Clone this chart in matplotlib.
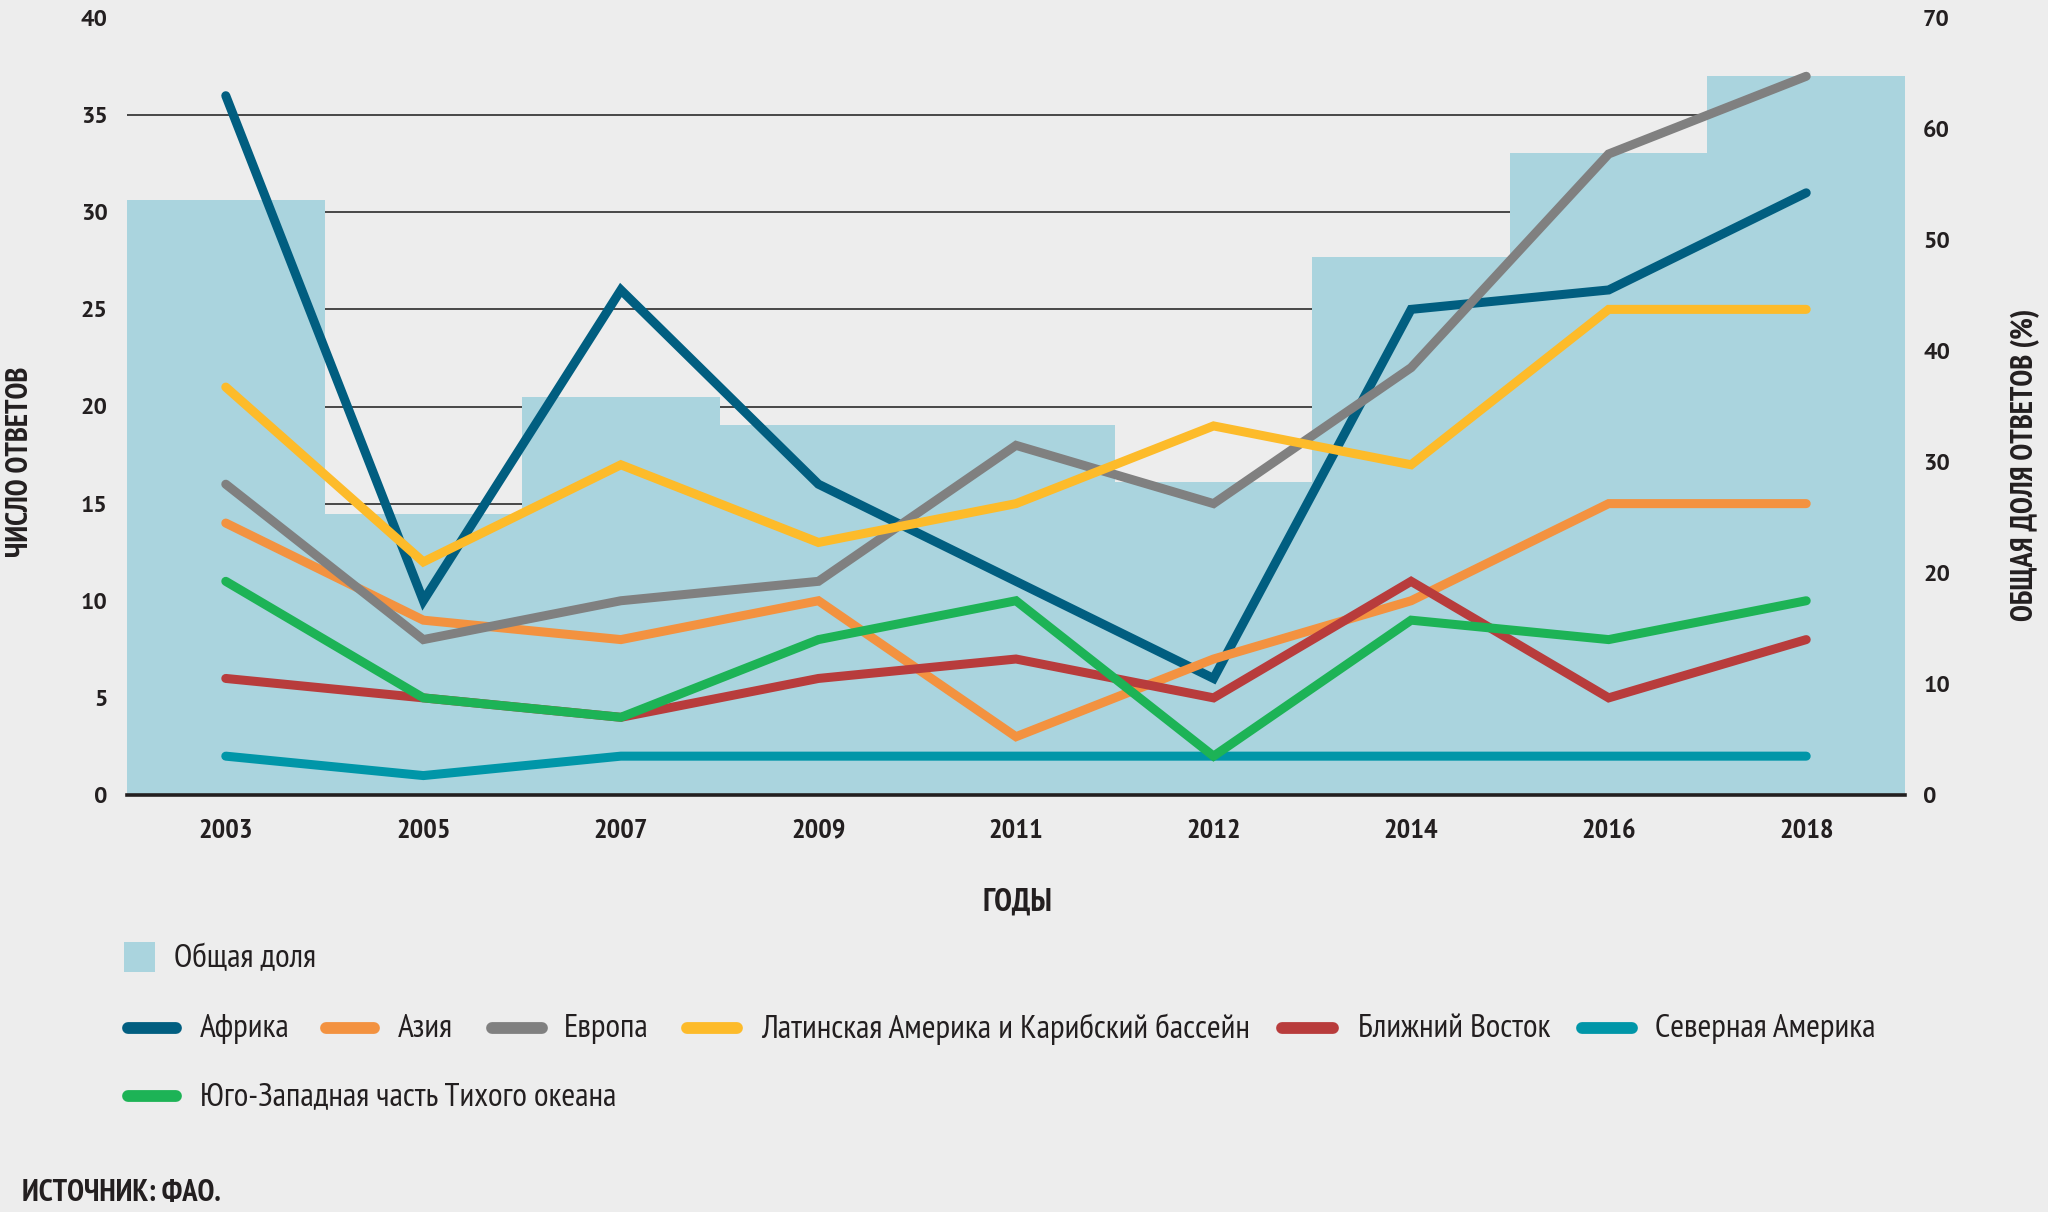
import numpy as np
import matplotlib
matplotlib.use("Agg")
import matplotlib.pyplot as plt
from matplotlib.lines import Line2D
from matplotlib.patches import Rectangle
from matplotlib.ticker import FixedLocator

# ---------------- data ----------------
years = ["2003", "2005", "2007", "2009", "2011", "2012", "2014", "2016", "2018"]
share_pct = [53.6, 25.3, 35.9, 33.3, 33.3, 28.2, 48.5, 57.8, 64.8]

africa = [36, 10, 26, 16, 11, 6, 25, 26, 31]
asia = [14, 9, 8, 10, 3, 7, 10, 15, 15]
europe = [16, 8, 10, 11, 18, 15, 22, 33, 37]
latam = [21, 12, 17, 13, 15, 19, 17, 25, 25]
near_east = [6, 5, 4, 6, 7, 5, 11, 5, 8]
north_america = [2, 1, 2, 2, 2, 2, 2, 2, 2]
sw_pacific = [11, 5, 4, 8, 10, 2, 9, 8, 10]

series_names = ["Африка", "Азия", "Европа", "Латинская Америка и Карибский бассейн",
                "Ближний Восток", "Северная Америка", "Юго-Западная часть Тихого океана"]
series_values = [africa, asia, europe, latam, near_east, north_america, sw_pacific]
series_colors = ["#015e80", "#f39240", "#808080", "#fdbb2a", "#b83c3c", "#0096a8", "#1db356"]

left_ticks = [0, 5, 10, 15, 20, 25, 30, 35, 40]
right_ticks = [0, 10, 20, 30, 40, 50, 60, 70]

bar_label = "Общая доля"
left_title = "ЧИСЛО ОТВЕТОВ"
right_title = "ОБЩАЯ ДОЛЯ ОТВЕТОВ (%)"
x_title = "ГОДЫ"
source = "ИСТОЧНИК: ФАО."

# ---------------- style ----------------
NARROW = ["PT Sans Narrow", "Fira Sans Condensed", "Roboto Condensed", "DejaVu Sans"]
WIDE = ["PT Sans", "Fira Sans", "Liberation Sans", "DejaVu Sans"]
BG = "#ededed"
TXT = "#231f20"
BAR = "#aad4de"

W, H = 2048, 1212
fig = plt.figure(figsize=(W / 100, H / 100), dpi=100, facecolor=BG)

L, R, T, B = 127, 1905, 18, 795
ax = fig.add_axes([L / W, 1 - B / H, (R - L) / W, (B - T) / H])
ax2 = ax.twinx()
ax.set_zorder(ax2.get_zorder() + 1)
ax.patch.set_visible(False)
ax2.set_facecolor(BG)

x = np.arange(len(years))

# bars (right axis)
ax2.bar(x, share_pct, width=1.0, color=BAR, zorder=2, linewidth=0)
ax2.set_ylim(0, 70)
ax2.set_yticks(right_ticks)
ax2.set_yticklabels([str(t) for t in right_ticks], family=WIDE, fontweight="bold",
                    fontsize=17, color=TXT)
ax2.tick_params(axis="y", length=0, pad=13)
# gridlines matching the left-axis ticks, drawn beneath the bars
ax2.yaxis.set_minor_locator(FixedLocator([t * 70 / 40 for t in left_ticks]))
ax2.tick_params(axis="y", which="minor", length=0)
ax2.grid(True, which="minor", axis="y", color="#3a3a3a", linewidth=1.3, zorder=0)
ax2.set_axisbelow(True)
for s in ax2.spines.values():
    s.set_visible(False)

# lines (left axis)
for vals, col in zip(series_values, series_colors):
    ax.plot(x, vals, color=col, linewidth=6.5, solid_capstyle="round",
            solid_joinstyle="miter", zorder=3)
ax.set_ylim(0, 40)
ax.set_xlim(-0.5, len(years) - 0.5)
ax.set_yticks(left_ticks)
ax.set_yticklabels([str(t) for t in left_ticks], family=WIDE, fontweight="bold",
                   fontsize=17, color=TXT)
ax.set_xticks(x)
ax.set_xticklabels(years, family=NARROW, fontweight="bold", fontsize=20.5, color=TXT)
ax.tick_params(axis="y", length=0, pad=14)
ax.tick_params(axis="x", length=0, pad=17)
for k, s in ax.spines.items():
    s.set_visible(k == "bottom")
ax.spines["bottom"].set_color(TXT)
ax.spines["bottom"].set_linewidth(2.6)
ax.spines["bottom"].set_zorder(5)

# axis titles
fig.text(20 / W, 1 - 462 / H, left_title, rotation=90, ha="center", va="center",
         family=NARROW, fontweight="bold", fontsize=22, color=TXT)
fig.text(2025 / W, 1 - 465 / H, right_title, rotation=90, ha="center", va="center",
         family=NARROW, fontweight="bold", fontsize=22, color=TXT)
fig.text(1017 / W, 1 - 903 / H, x_title, ha="center", va="center",
         family=NARROW, fontweight="bold", fontsize=23, color=TXT)

# legend
fig.add_artist(Rectangle((124 / W, 1 - 972 / H), 31 / W, 30 / H, transform=fig.transFigure,
                         facecolor=BAR, edgecolor="none"))
fig.text(174 / W, 1 - 959 / H, bar_label, ha="left", va="center", family=NARROW,
         fontsize=24, color=TXT)

handles = [(122, 182, 200, 1028), (320, 380, 398, 1028), (486, 548, 564, 1028),
           (681, 743, 761, 1028), (1276, 1339, 1358, 1028), (1576, 1638, 1655, 1028),
           (122, 182, 200, 1096)]
for (x1, x2, xt, yy), name, col in zip(handles, series_names, series_colors):
    fig.add_artist(Line2D([(x1 + 6) / W, (x2 - 6) / W], [1 - yy / H, 1 - yy / H],
                          transform=fig.transFigure, color=col, linewidth=8.5,
                          solid_capstyle="round"))
    fig.text(xt / W, 1 - (yy + 1) / H, name, ha="left", va="center", family=NARROW,
             fontsize=24, color=TXT)

fig.text(22 / W, 1 - 1193 / H, source, ha="left", va="center", family=NARROW,
         fontweight="bold", fontsize=22, color=TXT)

fig.savefig("out.png", dpi=100, facecolor=BG)
